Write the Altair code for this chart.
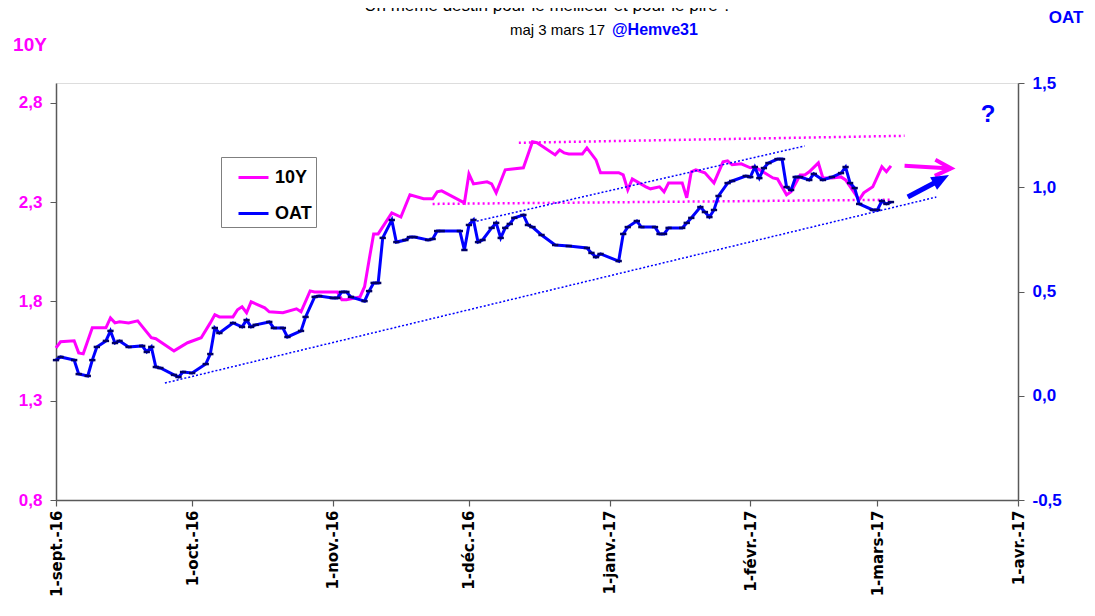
import altair as alt
import pandas as pd

FONT = "Liberation Sans"
MAG = "#FF00FF"
BLUE = "#0000FF"
NAVY = "#000066"
AX = "#595959"

# ---------------- data ----------------
y10_dates = [
    "2016-09-01", "2016-09-02", "2016-09-05", "2016-09-06", "2016-09-07", "2016-09-09",
    "2016-09-12", "2016-09-13", "2016-09-14", "2016-09-15", "2016-09-17", "2016-09-19",
    "2016-09-22", "2016-09-23", "2016-09-27", "2016-09-30", "2016-10-03", "2016-10-05",
    "2016-10-06", "2016-10-07", "2016-10-10", "2016-10-11", "2016-10-12", "2016-10-13",
    "2016-10-14", "2016-10-17", "2016-10-18", "2016-10-21", "2016-10-24", "2016-10-25",
    "2016-10-27", "2016-10-28", "2016-11-02", "2016-11-03", "2016-11-04", "2016-11-07",
    "2016-11-08", "2016-11-09", "2016-11-10", "2016-11-11", "2016-11-14", "2016-11-16",
    "2016-11-18", "2016-11-21", "2016-11-23", "2016-11-24", "2016-11-25", "2016-11-30",
    "2016-12-01", "2016-12-02", "2016-12-05", "2016-12-06", "2016-12-07", "2016-12-09",
    "2016-12-13", "2016-12-15", "2016-12-16", "2016-12-20", "2016-12-21", "2016-12-22",
    "2016-12-23", "2016-12-26", "2016-12-27", "2016-12-29", "2016-12-30", "2017-01-03",
    "2017-01-04", "2017-01-05", "2017-01-06", "2017-01-09", "2017-01-10", "2017-01-12",
    "2017-01-13", "2017-01-14", "2017-01-17", "2017-01-18", "2017-01-19", "2017-01-20",
    "2017-01-22", "2017-01-24", "2017-01-26", "2017-01-27", "2017-01-28", "2017-01-30",
    "2017-02-01", "2017-02-02", "2017-02-03", "2017-02-06", "2017-02-07", "2017-02-09",
    "2017-02-10", "2017-02-12", "2017-02-13", "2017-02-14", "2017-02-16", "2017-02-17",
    "2017-02-19", "2017-02-21", "2017-02-22", "2017-02-25", "2017-02-26", "2017-02-28",
    "2017-03-02", "2017-03-03", "2017-03-04",
]
y10_values = [
    1.566, 1.597, 1.602, 1.541, 1.536, 1.667,
    1.667, 1.717, 1.692, 1.697, 1.692, 1.702,
    1.617, 1.612, 1.551, 1.592, 1.617, 1.692,
    1.733, 1.722, 1.722, 1.758, 1.773, 1.743,
    1.798, 1.768, 1.748, 1.743, 1.763, 1.748,
    1.853, 1.848, 1.848, 1.808, 1.808, 1.823,
    1.874, 2.009, 2.140, 2.140, 2.246, 2.225,
    2.337, 2.317, 2.317, 2.352, 2.357, 2.296,
    2.442, 2.392, 2.402, 2.392, 2.347, 2.463,
    2.473, 2.604, 2.599, 2.538, 2.563, 2.548,
    2.543, 2.543, 2.573, 2.513, 2.448, 2.448,
    2.437, 2.362, 2.417, 2.377, 2.367, 2.377,
    2.352, 2.397, 2.397, 2.322, 2.453, 2.463,
    2.448, 2.397, 2.503, 2.508, 2.488, 2.493,
    2.473, 2.478, 2.463, 2.422, 2.417, 2.337,
    2.352, 2.437, 2.437, 2.453, 2.498, 2.422,
    2.422, 2.427, 2.412, 2.312, 2.347, 2.377,
    2.478, 2.453, 2.483,
]

oat_dates = [
    "2016-09-01", "2016-09-02", "2016-09-05", "2016-09-06", "2016-09-08", "2016-09-09",
    "2016-09-10", "2016-09-12", "2016-09-13", "2016-09-14", "2016-09-15", "2016-09-17",
    "2016-09-20", "2016-09-21", "2016-09-22", "2016-09-23", "2016-09-24", "2016-09-27",
    "2016-09-28", "2016-09-29", "2016-10-01", "2016-10-04", "2016-10-05", "2016-10-06",
    "2016-10-07", "2016-10-10", "2016-10-12", "2016-10-13", "2016-10-14", "2016-10-15",
    "2016-10-18", "2016-10-19", "2016-10-21", "2016-10-22", "2016-10-25", "2016-10-26",
    "2016-10-28", "2016-10-29", "2016-11-01", "2016-11-02", "2016-11-03", "2016-11-04",
    "2016-11-05", "2016-11-08", "2016-11-09", "2016-11-10", "2016-11-11", "2016-11-12",
    "2016-11-14", "2016-11-15", "2016-11-17", "2016-11-18", "2016-11-19", "2016-11-22",
    "2016-11-23", "2016-11-24", "2016-11-25", "2016-11-29", "2016-11-30", "2016-12-01",
    "2016-12-02", "2016-12-03", "2016-12-04", "2016-12-06", "2016-12-07", "2016-12-08",
    "2016-12-09", "2016-12-10", "2016-12-11", "2016-12-13", "2016-12-14", "2016-12-15",
    "2016-12-17", "2016-12-20", "2016-12-23", "2016-12-27", "2016-12-28", "2016-12-29",
    "2016-12-30", "2017-01-03", "2017-01-04", "2017-01-05", "2017-01-07", "2017-01-08",
    "2017-01-11", "2017-01-12", "2017-01-13", "2017-01-14", "2017-01-17", "2017-01-18",
    "2017-01-19", "2017-01-21", "2017-01-22", "2017-01-23", "2017-01-24", "2017-01-25",
    "2017-01-27", "2017-01-28", "2017-01-31", "2017-02-01", "2017-02-02", "2017-02-03",
    "2017-02-04", "2017-02-05", "2017-02-07", "2017-02-08", "2017-02-09", "2017-02-10",
    "2017-02-11", "2017-02-12", "2017-02-14", "2017-02-15", "2017-02-17", "2017-02-19",
    "2017-02-21", "2017-02-22", "2017-02-23", "2017-02-24", "2017-02-25", "2017-02-28",
    "2017-03-01", "2017-03-02", "2017-03-03", "2017-03-04",
]
oat_values = [
    0.171, 0.186, 0.171, 0.104, 0.095, 0.171,
    0.234, 0.263, 0.311, 0.253, 0.263, 0.234,
    0.239, 0.210, 0.234, 0.138, 0.133, 0.100,
    0.090, 0.114, 0.109, 0.152, 0.200, 0.325,
    0.301, 0.349, 0.330, 0.363, 0.330, 0.340,
    0.354, 0.325, 0.325, 0.282, 0.311, 0.378,
    0.474, 0.478, 0.469, 0.469, 0.498, 0.498,
    0.474, 0.454, 0.502, 0.541, 0.541, 0.757,
    0.843, 0.737, 0.747, 0.761, 0.761, 0.747,
    0.752, 0.790, 0.790, 0.790, 0.699, 0.819,
    0.843, 0.737, 0.747, 0.805, 0.829, 0.757,
    0.805, 0.824, 0.853, 0.867, 0.819, 0.809,
    0.771, 0.723, 0.718, 0.709, 0.685, 0.665,
    0.680, 0.646, 0.776, 0.809, 0.838, 0.809,
    0.809, 0.776, 0.776, 0.805, 0.805, 0.829,
    0.853, 0.905, 0.881, 0.857, 0.891, 0.958,
    1.020, 1.030, 1.054, 1.049, 1.097, 1.044,
    1.092, 1.116, 1.135, 1.135, 1.001, 0.987,
    1.049, 1.049, 1.035, 1.064, 1.035, 1.049,
    1.068, 1.097, 1.020, 0.996, 0.920, 0.891,
    0.891, 0.934, 0.920, 0.929,
]

# dotted channel lines (start / end)
tr10_start_dates = ["2016-12-12", "2016-11-23"]
tr10_start_values = [2.599, 2.291]
tr10_end_dates = ["2017-03-07", "2017-03-04"]
tr10_end_values = [2.634, 2.312]

troat_start_dates = ["2016-12-01", "2016-09-25"]
troat_start_values = [0.829, 0.061]
troat_end_dates = ["2017-02-13", "2017-03-14"]
troat_end_values = [1.198, 0.953]

# arrows
arr10_dates = ["2017-03-07T00:00", "2017-03-17T06:00"]
arr10_values = [2.483, 2.470]
arroat_dates = ["2017-03-07T17:00", "2017-03-14T19:00", "2017-03-16T19:00"]
arroat_values = [0.953, 1.035, 1.059]

month_labels = ["janv.", "févr.", "mars", "avr.", "mai", "juin",
                "juil.", "août", "sept.", "oct.", "nov.", "déc."]
x_ticks = [(2016, 9), (2016, 10), (2016, 11), (2016, 12),
           (2017, 1), (2017, 2), (2017, 3), (2017, 4)]
left_ticks = [0.8, 1.3, 1.8, 2.3, 2.8]
right_ticks = [-0.5, 0.0, 0.5, 1.0, 1.5]

# ---------------- tables ----------------
df10 = pd.DataFrame({"date": pd.to_datetime(y10_dates), "value": y10_values, "series": "10Y"})
dfoat = pd.DataFrame({"date": pd.to_datetime(oat_dates), "value": oat_values, "series": "OAT"})
dftr10 = pd.DataFrame({"d1": pd.to_datetime(tr10_start_dates), "v1": tr10_start_values,
                       "d2": pd.to_datetime(tr10_end_dates), "v2": tr10_end_values})
dftroat = pd.DataFrame({"d1": pd.to_datetime(troat_start_dates), "v1": troat_start_values,
                        "d2": pd.to_datetime(troat_end_dates), "v2": troat_end_values})
dfa10 = pd.DataFrame({"d1": [pd.Timestamp(arr10_dates[0])], "v1": [arr10_values[0]],
                      "d2": [pd.Timestamp(arr10_dates[1])], "v2": [arr10_values[1]]})
dfaoat = pd.DataFrame({"d1": [pd.Timestamp(arroat_dates[0])], "v1": [arroat_values[0]],
                       "d2": [pd.Timestamp(arroat_dates[1])], "v2": [arroat_values[1]],
                       "d3": [pd.Timestamp(arroat_dates[2])], "v3": [arroat_values[2]]})

# ---------------- scales & axes ----------------
month_js = "[" + ",".join("'" + m + "'" for m in month_labels) + "]"
xscale = alt.Scale(domain=[alt.DateTime(year=2016, month=9, date=1),
                           alt.DateTime(year=2017, month=4, date=1)], nice=False)
xaxis = alt.Axis(
    values=[alt.DateTime(year=y, month=m, date=1) for (y, m) in x_ticks],
    labelExpr="'1-' + " + month_js + "[month(datum.value)] + '-' + timeFormat(datum.value, '%y')",
    labelAngle=270, labelAlign="right", labelBaseline="middle",
    labelFont="DejaVu Sans", labelFontWeight="bold", labelFontSize=15, labelColor="black",
    labelPadding=4, tickSize=6, tickColor=AX, domainColor=AX, domainWidth=1.5, tickWidth=1.2,
    grid=False, title=None, labelOverlap=False, labelFlush=False,
)
num_expr = "replace(replace(format(datum.value, '.1f'), '.', ','), '\u2212', '-')"
yscaleL = alt.Scale(domain=[0.8, 2.9], nice=False, zero=False)
yaxisL = alt.Axis(orient="left", values=left_ticks, labelExpr=num_expr, labelColor=MAG,
                  labelFont=FONT, labelFontSize=17, labelFontWeight="bold", labelPadding=8,
                  tickSize=6, tickColor=AX, domainColor=AX, domainWidth=1.5, grid=False, title=None)
yscaleR = alt.Scale(domain=[-0.5, 1.5], nice=False, zero=False)
yaxisR = alt.Axis(orient="right", values=right_ticks, labelExpr=num_expr, labelColor=BLUE,
                  labelFont=FONT, labelFontSize=17, labelFontWeight="bold", labelPadding=8,
                  tickSize=6, tickColor=AX, domainColor=AX, domainWidth=1.5, grid=False, title=None)


def X(f):
    return alt.X(f, type="temporal", scale=xscale, axis=xaxis)


def YL(f):
    return alt.Y(f, type="quantitative", scale=yscaleL, axis=yaxisL)


def YR(f):
    return alt.Y(f, type="quantitative", scale=yscaleR, axis=yaxisR)


color = alt.Color("series:N", scale=alt.Scale(domain=["10Y", "OAT"], range=[MAG, BLUE]),
                  legend=alt.Legend(orient="none", legendX=165, legendY=74, title=None,
                                    symbolType="stroke", symbolSize=900, symbolStrokeWidth=3,
                                    symbolOffset=12,
                                    labelFont=FONT, labelFontSize=18, labelFontWeight="bold",
                                    labelColor="black", strokeColor="#7f7f7f", fillColor="white",
                                    padding=4, rowPadding=10, labelOffset=5))


def txt(t, x, y, size, col, weight="normal", align="center"):
    return alt.Chart(pd.DataFrame({"t": [t]})).mark_text(
        font=FONT, fontSize=size, fontWeight=weight, color=col, align=align, baseline="middle"
    ).encode(text="t:N", x=alt.value(x), y=alt.value(y))


# ---------------- left (10Y) group ----------------
line10 = alt.Chart(df10).mark_line(strokeWidth=3).encode(x=X("date"), y=YL("value"), color=color)
trend10 = alt.Chart(dftr10).mark_rule(color=MAG, strokeWidth=2.5, strokeDash=[2, 3]).encode(
    x=X("d1"), x2="d2", y=YL("v1"), y2="v2")
shaft10 = alt.Chart(dfa10).mark_rule(color=MAG, strokeWidth=4).encode(
    x=X("d1"), x2="d2", y=YL("v1"), y2="v2")
head10 = alt.Chart(dfa10).mark_point(shape="M-2,-1L0,0L-2,1", size=256, filled=False,
                                     color=MAG, strokeWidth=4, opacity=1, angle=2).encode(
    x=X("d2"), y=YL("v2"))
left = alt.layer(line10, trend10, shaft10, head10,
                 txt("10Y", -26, -38, 19, MAG, "bold"))

# ---------------- right (OAT) group ----------------
lineoat = alt.Chart(dfoat).mark_line(strokeWidth=3).encode(x=X("date"), y=YR("value"), color=color)
markoat = alt.Chart(dfoat).mark_point(shape="M-1,0L1,0", size=40, filled=False, color=NAVY,
                                      strokeWidth=2.5, opacity=1).encode(x=X("date"), y=YR("value"))
trendoat = alt.Chart(dftroat).mark_rule(color=BLUE, strokeWidth=1.5, strokeDash=[2, 2]).encode(
    x=X("d1"), x2="d2", y=YR("v1"), y2="v2")
shaftoat = alt.Chart(dfaoat).mark_rule(color=BLUE, strokeWidth=5).encode(
    x=X("d1"), x2="d2", y=YR("v1"), y2="v2")
headoat = alt.Chart(dfaoat).mark_point(shape="M0,0L-2.2,-0.9L-2.2,0.9Z", size=256, filled=True,
                                       color=BLUE, opacity=1, angle=331).encode(
    x=X("d3"), y=YR("v3"))
right = alt.layer(lineoat, markoat, trendoat, shaftoat, headoat,
                  txt("OAT", 1010, -65, 17, BLUE, "bold"),
                  txt("?", 932, 32, 24, BLUE, "bold"),
                  txt("Un même  destin pour le meilleur et pour le pire ?", 492, -77, 17, "black"),
                  txt("maj 3 mars  17", 549, -53, 15, "black", "normal", "right"),
                  txt("@Hemve31", 556, -53, 16, BLUE, "bold", "left"))

chart = alt.layer(left, right).resolve_scale(y="independent").properties(
    width=962, height=417, autosize="none",
    padding={"left": 48, "top": 75, "right": 69, "bottom": 102},
).configure_view(stroke=None).configure(background="white")

chart.save("out.html", embed_options={"renderer": "svg", "actions": False})
